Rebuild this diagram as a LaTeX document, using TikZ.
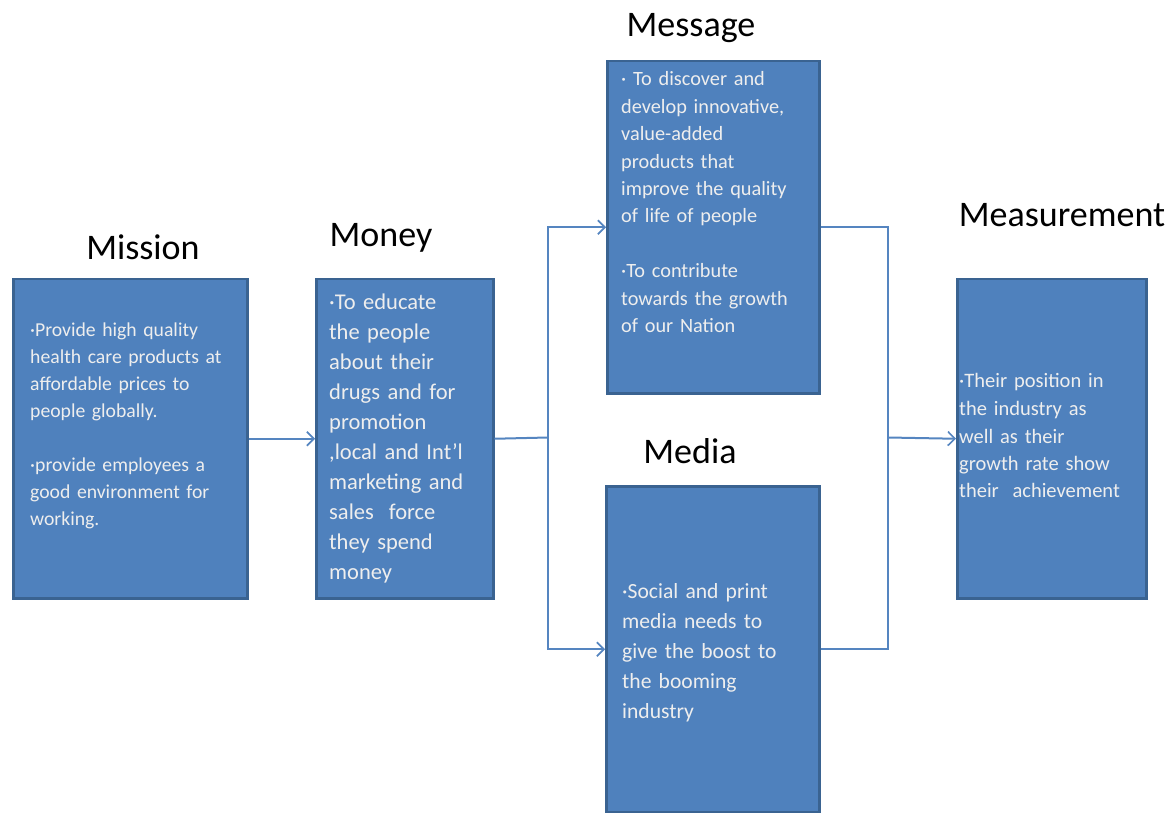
\documentclass[tikz,border=0pt]{standalone}
\usepackage{fontspec}
\setmainfont{Carlito}
\usetikzlibrary{arrows.meta}
\definecolor{boxfill}{HTML}{4F81BD}
\definecolor{boxedge}{HTML}{3A6391}
\definecolor{linkblue}{HTML}{5585C0}
\definecolor{boxtext}{HTML}{EEEEEE}
\newcommand{\pt}{·}
\tikzset{
  panel/.style={draw=boxedge, line width=2.5pt, fill=boxfill, inner sep=0pt, anchor=north west},
  heading/.style={font=\fontsize{36}{40}\selectfont, text=black, anchor=base, inner sep=0pt},
  bodytext/.style={text=boxtext, anchor=base west, inner sep=0pt, text width=260pt, align=left},
  link/.style={draw=linkblue, line width=2pt},
  linkarrow/.style={link, -{Straight Barb[length=7pt, width=14pt, line width=1.6pt]}}
}
\begin{document}
\begin{tikzpicture}[x=1pt, y=-1pt]
\useasboundingbox (0,0) rectangle (1171,813);

% boxes
\node (mission) [panel, minimum width=234pt, minimum height=319pt] at (12,278) {};
\node (money)   [panel, minimum width=177pt, minimum height=319pt] at (315,278) {};
\node (message) [panel, minimum width=212pt, minimum height=332pt] at (606,60) {};
\node (media)   [panel, minimum width=213pt, minimum height=326pt] at (605,485) {};
\node (measure) [panel, minimum width=189pt, minimum height=319pt] at (956,278) {};

% headings
\node (missionhead) [heading] at (143,260) {Mission};
\node (moneyhead)   [heading] at (381,247) {Money};
\node (messagehead) [heading] at (691,37)  {Message};
\node (mediahead)   [heading] at (690,463) {Media};
\node (measurehead) [heading] at (1062,227) {Measurement};

% box texts
\node (missiontext) [bodytext, font=\fontsize{19.7}{27}\selectfont] at (30,337)
  {\pt Provide high quality\\ health care products at\\ affordable prices to\\ people globally.\\[27pt]
   \pt provide employees a\\ good environment for\\ working.};
\node (moneytext) [bodytext, font=\fontsize{22.5}{30}\selectfont] at (329,310)
  {\pt To educate\\ the people\\ about their\\ drugs and for\\ promotion\\ ,local and Int'l\\
   marketing and\\ sales\ \ force\\ they spend\\ money};
\node (messagetext) [bodytext, font=\fontsize{20.3}{27.4}\selectfont] at (621,86)
  {\pt\ To discover and\\ develop innovative,\\ value-added\\ products that\\ improve the quality\\
   of life of people\\[27.4pt] \pt To contribute\\ towards the growth\\ of our Nation};
\node (mediatext) [bodytext, font=\fontsize{21.6}{30}\selectfont] at (622,598)
  {\pt Social and print\\ media needs to\\ give the boost to\\ the booming\\ industry};
\node (measuretext) [bodytext, font=\fontsize{20.5}{27.5}\selectfont] at (959,388)
  {\pt Their position in\\ the industry as\\ well as their\\ growth rate show\\ their\ \ achievement};

% connectors
\coordinate (split) at (548,437.5);
\coordinate (join)  at (888,437.5);
\draw[linkarrow] (mission.east) -- (money.west);
\draw[link] (money.east) -- (split);
\draw[linkarrow] (split) |- (message.west);
\draw[linkarrow] (split) |- (media.west);
\draw[link] (message.east) -| (join);
\draw[link] (media.east) -| (join);
\draw[linkarrow] (join) -- (measure.west);
\end{tikzpicture}
\end{document}
